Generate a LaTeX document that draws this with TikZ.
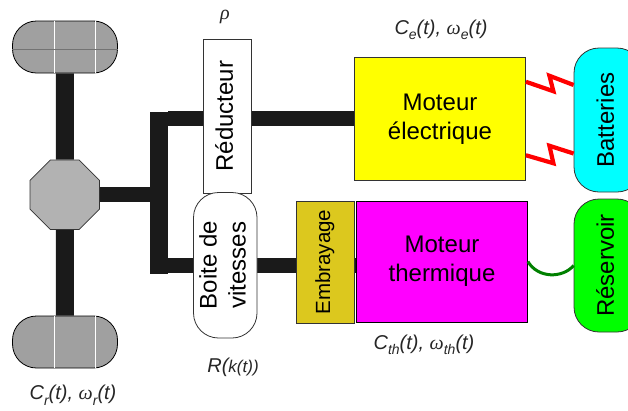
\documentclass[tikz,border=0pt]{standalone}
\usepackage{fontspec}
\usepackage{graphicx}
\setmainfont{Liberation Sans}
\newfontfamily\grk{Liberation Serif}
\usetikzlibrary{shapes.geometric,backgrounds,calc}
\definecolor{shaft}{HTML}{1A1A1A}
\definecolor{clutch}{HTML}{DCC81E}
\definecolor{tyre}{HTML}{A0A0A0}
\definecolor{hull}{HTML}{B2B2B2}
\definecolor{purecyan}{HTML}{00FFFF}
\definecolor{puremag}{HTML}{FF00FF}
\definecolor{pureyel}{HTML}{FFFF00}
\definecolor{puregrn}{HTML}{00FF00}
\definecolor{purered}{HTML}{FF0000}
\definecolor{darkgrn}{HTML}{008000}
\newcommand{\vtext}[1]{\rotatebox{90}{\begin{tabular}{@{}c@{}}#1\end{tabular}}}
\newcommand{\sbt}[1]{\raisebox{-0.28em}{\fontsize{14}{14}\selectfont #1}}
\newcommand{\om}{{\grk\itshape ω}}
\tikzset{
  x=1pt,y=-1pt,
  box/.style={draw=black!80,line width=0.8pt,inner sep=0pt,align=center,
    font=\fontsize{24}{29}\selectfont},
  wheel/.style={draw=black,line width=0.8pt,fill=tyre,rounded corners=24pt,
    inner sep=0pt,minimum width=105pt,minimum height=52pt},
  pill/.style={box,rounded corners=25pt},
  shaftline/.style={draw=shaft,line width=15pt},
  axle/.style={draw=shaft,line width=18pt},
  zap/.style={draw=purered,line width=4.2pt,line join=miter},
  fuel/.style={draw=darkgrn,line width=3pt},
  lbl/.style={inner sep=0pt,font=\fontsize{20}{20}\selectfont\itshape,text=black!85},
  tread/.style={draw=white,line width=0.8pt},
  tgroove/.style={draw=black!55,line width=0.8pt}
}
\begin{document}
\begin{tikzpicture}
\useasboundingbox (0,0) rectangle (628,410);
% wheels
\node[wheel] (wt) at (65,47) {};
\node[wheel] (wb) at (65,342) {};
\draw[tread] ($(wt.north)+(-10.5,0)$) -- ($(wt.south)+(-10.5,0)$);
\draw[tread] ($(wt.north)+(30.5,0)$) -- ($(wt.south)+(30.5,0)$);
\draw[tgroove] ($(wt.west)+(0,2.5)$) -- ($(wt.east)+(0,2.5)$);
\draw[tread] ($(wb.north)+(-10.5,0)$) -- ($(wb.south)+(-10.5,0)$);
\draw[tread] ($(wb.north)+(30.5,0)$) -- ($(wb.south)+(30.5,0)$);
% differential
\node[regular polygon,regular polygon sides=8,draw=black!80,line width=0.8pt,fill=hull,
  minimum size=75.2pt,inner sep=0pt] (dif) at (64.75,194.75) {};
% bus
\node[fill=shaft,inner sep=0pt,minimum width=18pt,minimum height=162pt] (bus) at (159,193) {};
% boxes
\node[box,fill=white,minimum width=48pt,minimum height=153.5pt] (red) at (227,116.25) {\vtext{Réducteur}};
\node[pill,fill=white,minimum width=63.5pt,minimum height=145.5pt] (bv) at (225.25,265.25)
  {\vtext{Boite de\\vitesses}};
\node[box,fill=pureyel,minimum width=171pt,minimum height=122.5pt] (me) at (440,118.75) {Moteur\\électrique};
\node[box,fill=clutch,minimum width=58.5pt,minimum height=122pt,
  font=\fontsize{20.5}{24}\selectfont] (emb) at (325.25,262) {\vtext{Embrayage}};
\node[box,draw=black,fill=puremag,minimum width=171pt,minimum height=121pt] (mt) at (442,261.5) {Moteur\\thermique};
\node[pill,fill=purecyan,minimum width=68pt,minimum height=144pt] (bat) at (608,120) {\vtext{Batteries}};
\node[pill,fill=puregrn,minimum width=68pt,minimum height=133pt] (res) at (608,265.5) {\vtext{Réservoir}};
% shafts
\begin{scope}[on background layer]
  \draw[axle] (wt) -- (dif);
  \draw[axle] (dif) -- (wb);
  \draw[shaftline] (dif.east) -- (dif.east -| bus.west);
  \draw[shaftline] (bus.east |- me.west) -- (me.west);
  \draw[shaftline] (bus.east |- bv.west) -- (bv.west);
  \draw[shaftline] (bv.east) -- (bv.east -| emb.west);
  \draw[shaftline] (bv.east -| emb.east) -- (bv.east -| mt.west);
\end{scope}
% power links
\draw[zap] ($(me.east)+(0,-37)$) -- +(27.5,9.5) -- +(23.5,-6) -- ($(bat.west)+(0,-35)$);
\draw[zap] ($(me.east)+(0,36.5)$) -- +(27.5,8) -- +(23.5,-9.5) -- ($(bat.west)+(0,33.5)$);
\draw[fuel] (mt.east) .. controls +(10,17) and ($(res.west)+(-11,13)$) .. (res.west);
% labels
\node[lbl] (lrho) at (225,17) {{\grk ρ}};
\node[lbl] (lce) at (441,30) {C\sbt{e}(t), \om\sbt{e}(t)};
\node[lbl] (lct) at (424,345) {C\sbt{th}(t), \om\sbt{th}(t)};
\node[lbl] (lrk) at (233,367) {R(\fontsize{17}{17}\selectfont k(t))};
\node[lbl] (lcr) at (73,395) {C\sbt{r}(t), \om\sbt{r}(t)};
\end{tikzpicture}
\end{document}
